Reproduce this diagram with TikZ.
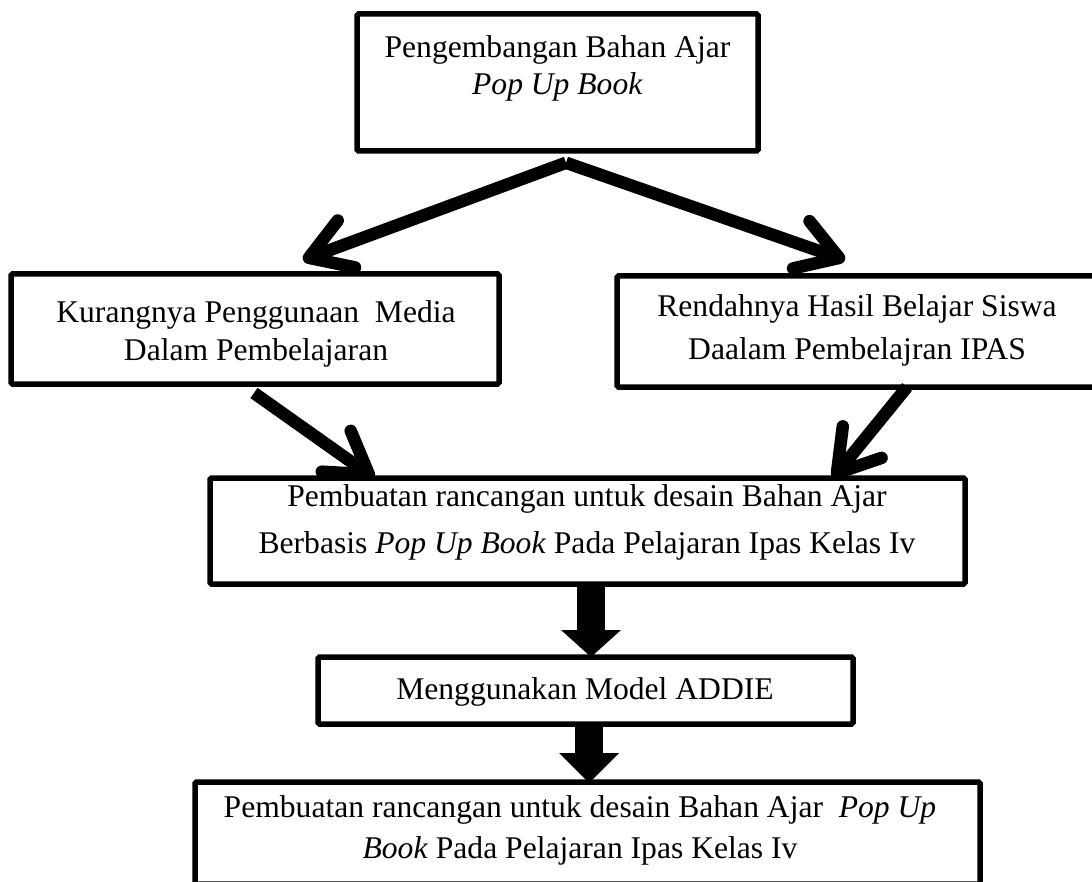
\documentclass[tikz,border=0pt]{standalone}
\usepackage{fontspec}
\setmainfont{Liberation Serif}
\usetikzlibrary{arrows.meta}
\begin{document}
\begin{tikzpicture}[x=1pt,y=-1pt,
  box/.style={draw, line width=5.5pt, rounded corners=1.5pt, inner sep=0pt},
  txt/.style={font=\fontsize{31.6pt}{#1}\selectfont, align=center, inner sep=0pt, anchor=north},
  thinarrow/.style={line width=12.5pt, line cap=butt, -{Straight Barb[length=40pt,width=50pt,round]}},
  blockarrow/.style={line width=28pt, -{Triangle[length=#1,width=60pt,line width=0pt]}}
]
\useasboundingbox (0,0) rectangle (1092,882);
\clip (0,0) rectangle (1092,882);
% boxes
\node[box, minimum width=401pt, minimum height=137pt] (nTop) at (557.5,82.5) {};
\node[box, minimum width=488pt, minimum height=110pt] (nLeft) at (255,329) {};
\node[box, minimum width=483pt, minimum height=111pt] (nRight) at (858.5,331.5) {};
\node[box, minimum width=755pt, minimum height=106pt] (nMid) at (587.5,531) {};
\node[box, minimum width=535pt, minimum height=67pt] (nAddie) at (585.5,690.5) {};
\node[box, minimum width=785pt, minimum height=102pt] (nBot) at (587.5,833) {};
% texts
\node[txt=37pt] (tTop) at (557.5,35.4) {Pengembangan Bahan Ajar\\\textit{Pop Up Book}};
\node[txt=38pt] (tLeft) at (256,300.4) {Kurangnya Penggunaan\ \ Media\\Dalam Pembelajaran};
\node[txt=43pt] (tRight) at (857,294.4) {Rendahnya Hasil Belajar Siswa\\Daalam Pembelajran IPAS};
\node[txt=47pt] (tMid) at (587,484.4) {Pembuatan rancangan untuk desain Bahan Ajar\\Berbasis \textit{Pop Up Book} Pada Pelajaran Ipas Kelas Iv};
\node[txt=40pt] (tAddie) at (585,677.4) {Menggunakan Model ADDIE};
\node[txt=41pt] (tBot) at (580,795.4) {Pembuatan rancangan untuk desain Bahan Ajar\ \ \textit{Pop Up}\\\textit{Book} Pada Pelajaran Ipas Kelas Iv};
% connectors
\coordinate (apex) at ([shift={(8.5,9)}]nTop.south);
\draw[thinarrow] (apex) -- ([shift={(48,-11.25)}]nLeft.north);
\draw[thinarrow] (apex) -- ([shift={(-13.5,-13.25)}]nRight.north);
\draw[thinarrow] ([shift={(-1,6.25)}]nLeft.south) -- ([shift={(-213.5,2.75)}]nMid.north);
\draw[thinarrow] ([shift={(48.5,-2.75)}]nRight.south) -- ([shift={(245.5,2.75)}]nMid.north);
\draw[blockarrow=27pt] ([shift={(3.5,-2.75)}]nMid.south) -- ([shift={(5.5,2.75)}]nAddie.north);
\draw[blockarrow=30pt] ([shift={(3.5,-2.75)}]nAddie.south) -- ([shift={(1.5,3.75)}]nBot.north);
\end{tikzpicture}
\end{document}
